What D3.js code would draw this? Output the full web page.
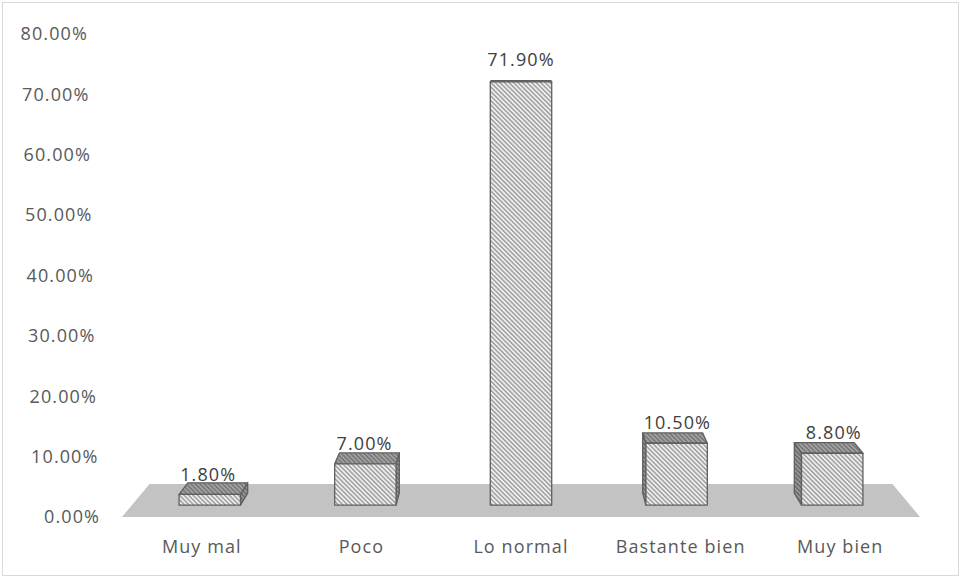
<!DOCTYPE html>
<html>
<head>
<meta charset="utf-8">
<script src="https://cdn.jsdelivr.net/npm/d3@7"></script>
<style>
  html, body { margin: 0; padding: 0; background: #fff; }
  svg { display: block; }
  text { font-family: "Open Sans", "Noto Sans", sans-serif; }
</style>
</head>
<body>
<svg id="chart" width="961" height="578"></svg>
<script>
// Survey answers and their shares (%)
const categories = ["Muy mal", "Poco", "Lo normal", "Bastante bien", "Muy bien"];
const values = [1.8, 7.0, 71.9, 10.5, 8.8];
const valueLabels = ["1.80%", "7.00%", "71.90%", "10.50%", "8.80%"];
const tickValues = [0, 10, 20, 30, 40, 50, 60, 70, 80];
const tickLabels = ["0.00%", "10.00%", "20.00%", "30.00%", "40.00%", "50.00%", "60.00%", "70.00%", "80.00%"];

const W = 961, H = 578;
const FONT = 18, SPACING = 1.1;
const svg = d3.select("#chart");

// Front plane scales (depth factor 1)
const x = d3.scaleBand().domain(categories).range([122, 920]);
const y = d3.scaleLinear().domain([0, 80]).range([517, 34]);

// Simple perspective: shrink toward a vanishing point as depth grows
const VX = 521, VY = 39;
const proj = (px, py, s) => [VX + s * (px - VX), VY + s * (py - VY)];
const FLOOR_BACK = 0.931, BAR_FRONT = 0.975, BAR_BACK = 0.95, LABEL_S = 0.98;
const BAR_HALF = 31.5;

// Hatch patterns
const defs = svg.append("defs");
function hatch(id, bg, fg, w) {
  const p = defs.append("pattern")
    .attr("id", id).attr("patternUnits", "userSpaceOnUse")
    .attr("width", 3.2).attr("height", 3.2)
    .attr("patternTransform", "rotate(-45)");
  p.append("rect").attr("width", 3.2).attr("height", 3.2).attr("fill", bg);
  p.append("rect").attr("width", w).attr("height", 3.2).attr("fill", fg);
}
hatch("hFront", "#eeeeee", "#9a9a9a", 1.4);
hatch("hTop", "#a2a2a2", "#767676", 1.5);
hatch("hSide", "#989898", "#686868", 1.5);

// Chart frame
svg.append("rect").attr("x", 2.5).attr("y", 2.5).attr("width", W - 5).attr("height", H - 5)
  .attr("fill", "#fff").attr("stroke", "#d9d9d9").attr("stroke-width", 1);

// Floor
const x0 = x.range()[0], x1 = x.range()[1], yf = y(0);
const floorPts = [proj(x0, yf, 1), proj(x1, yf, 1), proj(x1, yf, FLOOR_BACK), proj(x0, yf, FLOOR_BACK)];
svg.append("polygon").attr("points", floorPts.map(p => p.join(",")).join(" "))
  .attr("fill", "#c3c3c3");

// Value axis labels
svg.append("g").selectAll("text").data(tickValues).join("text")
  .attr("x", d => 100 - (y(0) - y(d)) * 0.025)
  .attr("y", d => y(d))
  .attr("dy", "0.35em")
  .attr("text-anchor", "end")
  .attr("fill", "#595959")
  .attr("font-size", FONT)
  .attr("letter-spacing", SPACING)
  .text((d, i) => tickLabels[i]);

// Category labels
svg.append("g").selectAll("text").data(categories).join("text")
  .attr("x", d => x(d) + x.bandwidth() / 2)
  .attr("y", 547)
  .attr("dy", "0.35em")
  .attr("text-anchor", "middle")
  .attr("fill", "#595959")
  .attr("font-size", FONT)
  .attr("letter-spacing", SPACING)
  .text(d => d);

// Bars as projected boxes
const bars = svg.append("g");
const poly = (pts, fill) => bars.append("polygon")
  .attr("points", pts.map(p => p.join(",")).join(" "))
  .attr("fill", fill).attr("stroke", "#5f5f5f").attr("stroke-width", 1.3)
  .attr("stroke-linejoin", "round");

categories.forEach((c, i) => {
  const cx = x(c) + x.bandwidth() / 2;
  const l = cx - BAR_HALF, r = cx + BAR_HALF;
  const yt = y(values[i]), yb = y(0);
  const F = (px, py) => proj(px, py, BAR_FRONT);
  const B = (px, py) => proj(px, py, BAR_BACK);

  // side faces
  if (r < VX) poly([F(r, yt), B(r, yt), B(r, yb), F(r, yb)], "url(#hSide)");
  if (l > VX) poly([F(l, yt), B(l, yt), B(l, yb), F(l, yb)], "url(#hSide)");
  // top face (visible while top lies below eye level)
  if (yt > VY) poly([F(l, yt), F(r, yt), B(r, yt), B(l, yt)], "url(#hTop)");
  // front face
  poly([F(l, yt), F(r, yt), F(r, yb), F(l, yb)], "url(#hFront)");

  // value label
  const lp = proj(cx, yt - 16.4, LABEL_S);
  bars.append("text")
    .attr("x", lp[0]).attr("y", lp[1])
    .attr("text-anchor", "middle")
    .attr("fill", "#404040")
    .attr("font-size", FONT)
    .attr("letter-spacing", SPACING)
    .text(valueLabels[i]);
});
</script>
</body>
</html>
